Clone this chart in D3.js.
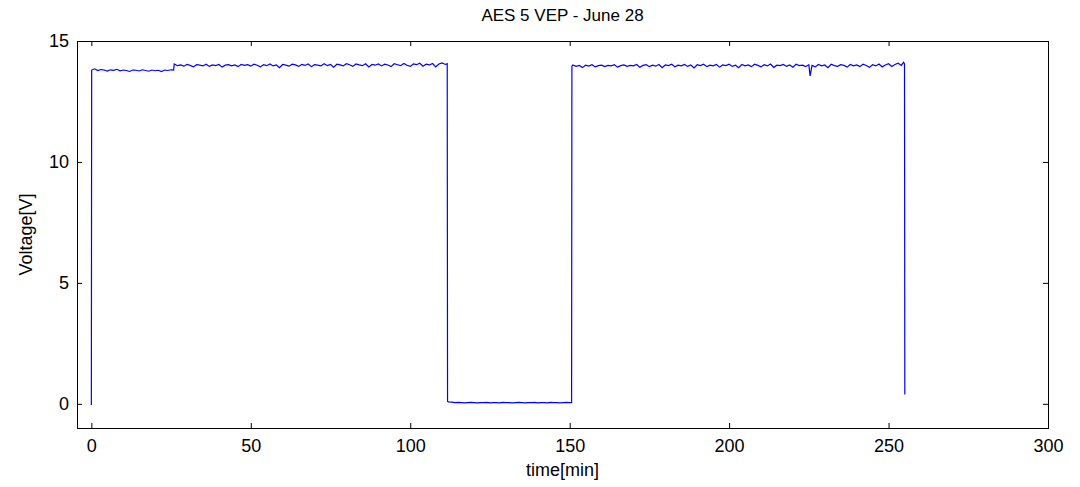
<!DOCTYPE html>
<html>
<head>
<meta charset="utf-8">
<script src="https://cdn.jsdelivr.net/npm/d3@7"></script>
<style>
  html, body { margin: 0; padding: 0; background: #fff; }
  svg { display: block; }
  text { font-family: "Liberation Sans", Arial, sans-serif; fill: #000; }
</style>
</head>
<body>
<div id="chart"></div>
<script>
// ---- data ----
const chartTitle = "AES 5 VEP - June 28";
const xLabel = "time[min]";
const yLabel = "Voltage[V]";
const xTicks = [0, 50, 100, 150, 200, 250, 300];
const yTicks = [0, 5, 10, 15];

const timeMin = [
  0, 0.1, 1, 2, 3, 4, 5, 6, 7, 8, 9, 10, 11, 12, 13, 14, 15, 16, 17, 18, 19, 20, 21, 22, 23, 24, 25, 25.8,
  26, 27, 28, 29, 30, 31, 32, 33, 34, 35, 36, 37, 38, 39, 40, 41, 42, 43, 44, 45, 46, 47, 48, 49,
  50, 51, 52, 53, 54, 55, 56, 57, 58, 59, 60, 61, 62, 63, 64, 65, 66, 67, 68, 69,
  70, 71, 72, 73, 74, 75, 76, 77, 78, 79, 80, 81, 82, 83, 84, 85, 86, 87, 88, 89,
  90, 91, 92, 93, 94, 95, 96, 97, 98, 99, 100, 101, 102, 103, 104, 105, 106, 107, 108, 109,
  110, 111, 111.6, 111.7,
  112, 113, 114, 115, 116, 117, 118, 119, 120, 121, 122, 123, 124, 125, 126, 127, 128, 129,
  130, 131, 132, 133, 134, 135, 136, 137, 138, 139, 140, 141, 142, 143, 144, 145, 146, 147, 148, 149,
  150, 150.6, 150.7,
  151, 152, 153, 154, 155, 156, 157, 158, 159, 160, 161, 162, 163, 164, 165, 166, 167, 168, 169,
  170, 171, 172, 173, 174, 175, 176, 177, 178, 179, 180, 181, 182, 183, 184, 185, 186, 187, 188, 189,
  190, 191, 192, 193, 194, 195, 196, 197, 198, 199, 200, 201, 202, 203, 204, 205, 206, 207, 208, 209,
  210, 211, 212, 213, 214, 215, 216, 217, 218, 219, 220, 221, 222, 223, 224, 225, 225.4, 226, 227, 228, 229,
  230, 231, 232, 233, 234, 235, 236, 237, 238, 239, 240, 241, 242, 243, 244, 245, 246, 247, 248, 249,
  250, 251, 252, 253, 254, 254.7, 255, 255.1
];

const voltage = [
  -0.05, 13.80, 13.85, 13.78, 13.82, 13.80, 13.76, 13.81, 13.79, 13.83, 13.77, 13.80, 13.78, 13.74, 13.80, 13.79, 13.76, 13.81, 13.78, 13.75, 13.80, 13.77, 13.79, 13.74, 13.80, 13.78, 13.81, 13.80,
  14.05, 13.98, 14.01, 13.96, 14.03, 13.99, 13.93, 14.02, 14.00, 13.97, 14.04, 13.95, 14.01, 13.98, 14.03, 13.92, 14.00, 14.02, 13.97, 14.01, 13.94, 14.03, 13.99, 14.02,
  13.96, 14.04, 14.00, 13.93, 14.02, 13.98, 14.05, 13.97, 14.01, 13.90, 14.03, 14.00, 13.96, 14.04, 14.01, 13.95, 14.03, 13.99, 14.05, 13.94,
  14.02, 14.00, 13.97, 14.06, 13.98, 14.03, 13.92, 14.04, 14.01, 13.97, 14.06, 14.02, 13.95, 14.05, 14.01, 13.98, 14.06, 13.93, 14.03, 14.00,
  14.05, 13.97, 14.04, 14.01, 13.94, 14.06, 14.02, 13.98, 14.07, 14.00, 13.95, 14.05, 14.02, 14.08, 13.96, 14.04, 14.01, 14.07, 13.93, 14.05,
  14.09, 14.03, 14.06, 0.10,
  0.08, 0.07, 0.05, 0.06, 0.05, 0.04, 0.05, 0.06, 0.05, 0.04, 0.05, 0.05, 0.06, 0.04, 0.05, 0.05, 0.04, 0.06,
  0.05, 0.05, 0.04, 0.05, 0.06, 0.05, 0.04, 0.05, 0.05, 0.06, 0.04, 0.05, 0.05, 0.04, 0.06, 0.05, 0.05, 0.04, 0.05, 0.06,
  0.05, 0.05, 13.96,
  14.01, 13.95, 13.99, 13.90, 14.00, 13.96, 14.02, 13.93, 13.98, 14.00, 13.94, 13.99, 13.97, 14.02, 13.92, 13.98, 14.01, 13.95, 13.99,
  13.97, 14.03, 13.91, 13.99, 14.02, 13.94, 14.00, 13.96, 14.03, 13.90, 14.01, 13.98, 14.04, 13.93, 14.00, 13.97, 14.03, 13.95, 14.01, 13.89,
  14.02, 13.98, 14.04, 13.94, 14.00, 13.97, 14.03, 13.92, 14.01, 13.98, 14.04, 13.95, 14.00, 13.90, 14.03, 13.97, 14.01, 13.94, 14.04, 13.99,
  13.93, 14.02, 13.97, 14.05, 13.91, 14.00, 13.98, 14.03, 13.95, 14.01, 13.92, 14.04, 13.98, 14.00, 13.94, 14.02, 13.56, 13.99, 13.93, 14.03, 13.97,
  14.01, 13.90, 14.04, 13.98, 13.95, 14.02, 13.99, 13.92, 14.03, 13.97, 14.01, 13.94, 14.04, 13.99, 13.91, 14.02, 13.97, 14.05, 13.93, 14.01,
  14.06, 13.95, 14.03, 14.08, 13.99, 14.12, 14.06, 0.38
];

// ---- layout ----
const W = 1080, H = 487;
const margin = { left: 77, right: 32, top: 41, bottom: 59 };
const iw = W - margin.left - margin.right;
const ih = H - margin.top - margin.bottom;

const svg = d3.select("#chart").append("svg")
  .attr("width", W).attr("height", H);

const x = d3.scaleLinear().domain([-4.5, 300]).range([0, iw]);
const y = d3.scaleLinear().domain([-1, 15]).range([ih, 0]);

const g = svg.append("g").attr("transform", `translate(${margin.left},${margin.top})`);

const points = timeMin.map((t, i) => [t, voltage[i]]);

g.append("path")
  .datum(points)
  .attr("fill", "none")
  .attr("stroke", "#0000ff")
  .attr("stroke-width", 1.2)
  .attr("d", d3.line().x(d => x(d[0])).y(d => y(d[1])));

const tickLen = 5;
const fs = "18px";

// bottom axis
const xb = g.append("g").attr("transform", `translate(0,${ih})`)
  .call(d3.axisBottom(x).tickValues(xTicks).tickSize(-tickLen).tickPadding(11).tickFormat(d3.format("d")));
// top axis
const xt = g.append("g")
  .call(d3.axisTop(x).tickValues(xTicks).tickSize(-tickLen).tickFormat(""));
// left axis
const yl = g.append("g")
  .call(d3.axisLeft(y).tickValues(yTicks).tickSize(-tickLen).tickPadding(8).tickFormat(d3.format("d")));
// right axis
const yr = g.append("g").attr("transform", `translate(${iw},0)`)
  .call(d3.axisRight(y).tickValues(yTicks).tickSize(-tickLen).tickFormat(""));

[xb, xt, yl, yr].forEach(a => {
  a.select(".domain").attr("stroke", "#000").attr("stroke-width", 1);
  a.selectAll(".tick line").attr("stroke", "#000");
  a.selectAll(".tick text").style("font-size", fs).style("font-family", "'Liberation Sans', Arial, sans-serif").attr("fill", "#000");
});

// title
svg.append("text")
  .attr("x", margin.left + iw / 2).attr("y", 21)
  .attr("text-anchor", "middle").style("font-size", "17px")
  .text(chartTitle);

// x label
svg.append("text")
  .attr("x", margin.left + iw / 2).attr("y", 476)
  .attr("text-anchor", "middle").style("font-size", "18px")
  .text(xLabel);

// y label
svg.append("text")
  .attr("transform", `translate(32,${margin.top + ih / 2}) rotate(-90)`)
  .attr("text-anchor", "middle").style("font-size", "18px")
  .text(yLabel);
</script>
</body>
</html>
